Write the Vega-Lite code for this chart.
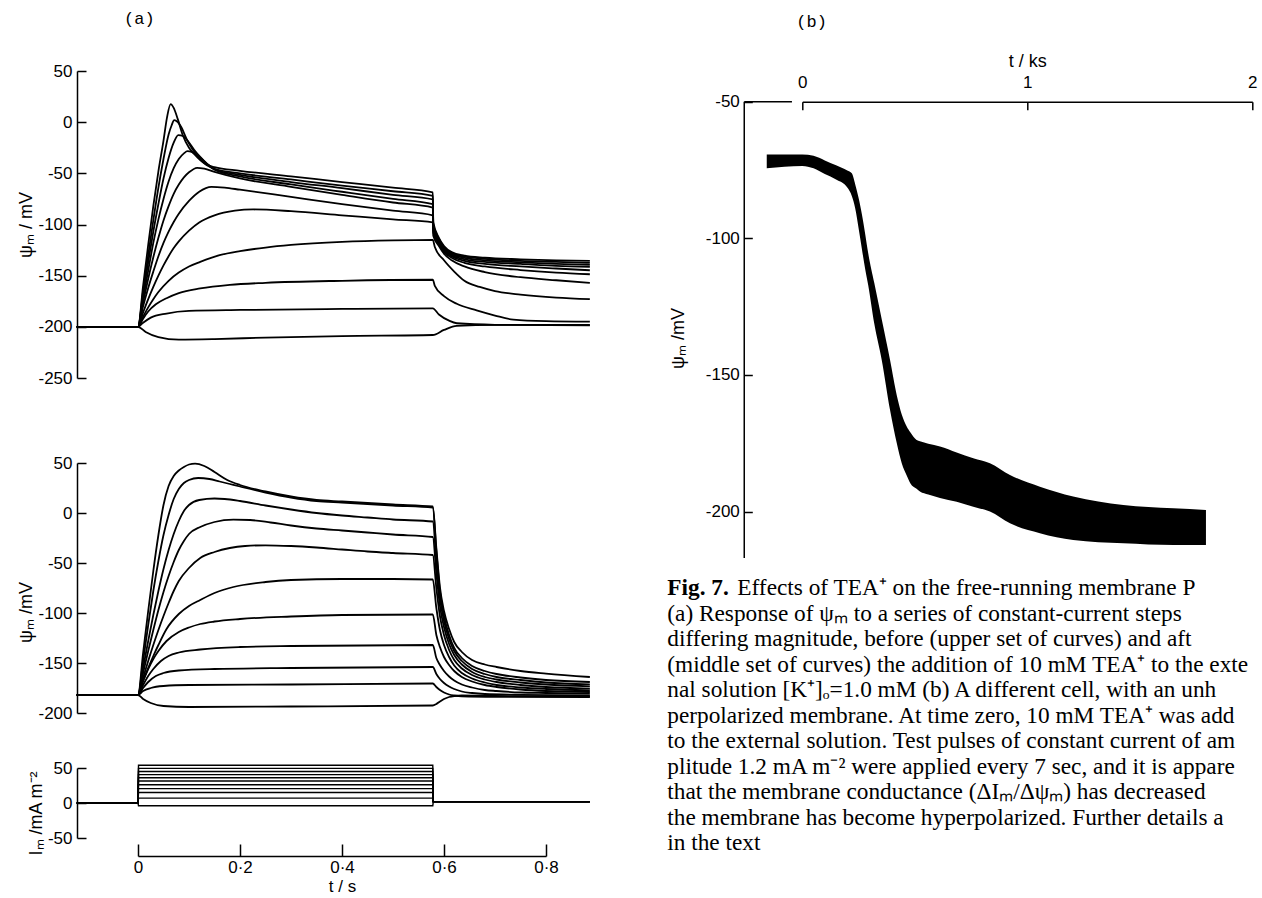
{
"$schema": "https://vega.github.io/schema/vega-lite/v6.json",
"background": "white",
"padding": {"left": 17, "top": 10, "right": 0, "bottom": 0},
"config": {
 "view": {"stroke": null},
 "font": "Liberation Sans",
 "axis": {"grid": false, "domainColor": "black", "tickColor": "black", "labelColor": "black", "titleColor": "black", "domainWidth": 1.5, "tickWidth": 1.5, "labelFont": "Liberation Sans", "labelFontSize": 17, "titleFont": "Liberation Sans", "titleFontSize": 18, "titleFontWeight": "normal", "labelFlush": false},
 "title": {"fontWeight": "normal", "color": "black"}
},
"datasets": {
"up": [
{"s":"A","t":-0.12,"v":-200},{"s":"A","t":0,"v":-200},{"s":"A","t":0.01,"v":-160},{"s":"A","t":0.02,"v":-120},{"s":"A","t":0.03,"v":-82},{"s":"A","t":0.04,"v":-48},{"s":"A","t":0.05,"v":-18},{"s":"A","t":0.057,"v":5},{"s":"A","t":0.064,"v":17.7},{"s":"A","t":0.07,"v":14},{"s":"A","t":0.078,"v":3},{"s":"A","t":0.088,"v":-13},{"s":"A","t":0.1,"v":-25},{"s":"A","t":0.11,"v":-31},{"s":"A","t":0.122,"v":-37},{"s":"A","t":0.135,"v":-41.5},{"s":"A","t":0.15,"v":-44},{"s":"A","t":0.2,"v":-47.5},{"s":"A","t":0.3,"v":-53},{"s":"A","t":0.4,"v":-58.5},{"s":"A","t":0.5,"v":-64},{"s":"A","t":0.578,"v":-68.5},{"s":"A","t":0.579,"v":-98},{"s":"A","t":0.59,"v":-113},{"s":"A","t":0.6,"v":-121},{"s":"A","t":0.615,"v":-127},{"s":"A","t":0.64,"v":-130.5},{"s":"A","t":0.68,"v":-132.5},{"s":"A","t":0.75,"v":-134},{"s":"A","t":0.82,"v":-135},{"s":"A","t":0.886,"v":-135.6},
{"s":"B","t":-0.12,"v":-200},{"s":"B","t":0,"v":-200},{"s":"B","t":0.01,"v":-165},{"s":"B","t":0.02,"v":-130},{"s":"B","t":0.03,"v":-96},{"s":"B","t":0.04,"v":-64},{"s":"B","t":0.05,"v":-36},{"s":"B","t":0.06,"v":-12},{"s":"B","t":0.066,"v":-3},{"s":"B","t":0.071,"v":2},{"s":"B","t":0.078,"v":0},{"s":"B","t":0.085,"v":-5},{"s":"B","t":0.095,"v":-16},{"s":"B","t":0.105,"v":-25},{"s":"B","t":0.115,"v":-32},{"s":"B","t":0.125,"v":-38},{"s":"B","t":0.135,"v":-42},{"s":"B","t":0.15,"v":-45.5},{"s":"B","t":0.2,"v":-50},{"s":"B","t":0.3,"v":-56},{"s":"B","t":0.4,"v":-62},{"s":"B","t":0.5,"v":-67.5},{"s":"B","t":0.578,"v":-72},{"s":"B","t":0.579,"v":-100},{"s":"B","t":0.59,"v":-114},{"s":"B","t":0.6,"v":-122},{"s":"B","t":0.615,"v":-128},{"s":"B","t":0.64,"v":-131.5},{"s":"B","t":0.68,"v":-133.5},{"s":"B","t":0.75,"v":-135.5},{"s":"B","t":0.82,"v":-136.5},{"s":"B","t":0.886,"v":-137.5},
{"s":"C","t":-0.12,"v":-200},{"s":"C","t":0,"v":-200},{"s":"C","t":0.01,"v":-168},{"s":"C","t":0.02,"v":-137},{"s":"C","t":0.03,"v":-107},{"s":"C","t":0.04,"v":-80},{"s":"C","t":0.05,"v":-55},{"s":"C","t":0.06,"v":-35},{"s":"C","t":0.07,"v":-20},{"s":"C","t":0.079,"v":-12.6},{"s":"C","t":0.088,"v":-13.5},{"s":"C","t":0.1,"v":-20},{"s":"C","t":0.11,"v":-27},{"s":"C","t":0.122,"v":-34},{"s":"C","t":0.135,"v":-40.5},{"s":"C","t":0.15,"v":-46},{"s":"C","t":0.2,"v":-51.5},{"s":"C","t":0.3,"v":-58.5},{"s":"C","t":0.4,"v":-64.5},{"s":"C","t":0.5,"v":-71},{"s":"C","t":0.578,"v":-75.5},{"s":"C","t":0.579,"v":-102},{"s":"C","t":0.59,"v":-115},{"s":"C","t":0.6,"v":-123},{"s":"C","t":0.615,"v":-129},{"s":"C","t":0.64,"v":-132.5},{"s":"C","t":0.68,"v":-135},{"s":"C","t":0.75,"v":-137},{"s":"C","t":0.82,"v":-138.5},{"s":"C","t":0.886,"v":-139.5},
{"s":"D","t":-0.12,"v":-200},{"s":"D","t":0,"v":-200},{"s":"D","t":0.01,"v":-172},{"s":"D","t":0.02,"v":-145},{"s":"D","t":0.03,"v":-118},{"s":"D","t":0.04,"v":-95},{"s":"D","t":0.05,"v":-75},{"s":"D","t":0.06,"v":-58},{"s":"D","t":0.07,"v":-45},{"s":"D","t":0.08,"v":-36},{"s":"D","t":0.09,"v":-30.5},{"s":"D","t":0.097,"v":-28.3},{"s":"D","t":0.105,"v":-29},{"s":"D","t":0.115,"v":-32},{"s":"D","t":0.125,"v":-36},{"s":"D","t":0.135,"v":-40.5},{"s":"D","t":0.15,"v":-46.5},{"s":"D","t":0.2,"v":-53},{"s":"D","t":0.3,"v":-60.8},{"s":"D","t":0.4,"v":-68},{"s":"D","t":0.5,"v":-75},{"s":"D","t":0.578,"v":-80},{"s":"D","t":0.579,"v":-104},{"s":"D","t":0.59,"v":-116},{"s":"D","t":0.6,"v":-124},{"s":"D","t":0.615,"v":-130},{"s":"D","t":0.64,"v":-134},{"s":"D","t":0.68,"v":-136.5},{"s":"D","t":0.75,"v":-138.5},{"s":"D","t":0.82,"v":-140.5},{"s":"D","t":0.886,"v":-141.5},
{"s":"E","t":-0.12,"v":-200},{"s":"E","t":0,"v":-200},{"s":"E","t":0.01,"v":-176},{"s":"E","t":0.02,"v":-153},{"s":"E","t":0.03,"v":-132},{"s":"E","t":0.04,"v":-113},{"s":"E","t":0.05,"v":-96},{"s":"E","t":0.06,"v":-82},{"s":"E","t":0.07,"v":-70},{"s":"E","t":0.08,"v":-61},{"s":"E","t":0.09,"v":-54},{"s":"E","t":0.1,"v":-49},{"s":"E","t":0.116,"v":-44.6},{"s":"E","t":0.13,"v":-45.5},{"s":"E","t":0.15,"v":-48.5},{"s":"E","t":0.2,"v":-55},{"s":"E","t":0.3,"v":-63.2},{"s":"E","t":0.4,"v":-71},{"s":"E","t":0.5,"v":-78.5},{"s":"E","t":0.578,"v":-83.5},{"s":"E","t":0.579,"v":-106},{"s":"E","t":0.59,"v":-117.5},{"s":"E","t":0.6,"v":-125},{"s":"E","t":0.615,"v":-131},{"s":"E","t":0.64,"v":-135.5},{"s":"E","t":0.68,"v":-138.5},{"s":"E","t":0.75,"v":-141},{"s":"E","t":0.82,"v":-143},{"s":"E","t":0.886,"v":-144.7},
{"s":"F","t":-0.12,"v":-200},{"s":"F","t":0,"v":-200},{"s":"F","t":0.01,"v":-180},{"s":"F","t":0.02,"v":-162},{"s":"F","t":0.03,"v":-146},{"s":"F","t":0.04,"v":-131},{"s":"F","t":0.05,"v":-118},{"s":"F","t":0.06,"v":-107},{"s":"F","t":0.07,"v":-97.5},{"s":"F","t":0.08,"v":-89.5},{"s":"F","t":0.1,"v":-77},{"s":"F","t":0.12,"v":-68},{"s":"F","t":0.144,"v":-63.2},{"s":"F","t":0.17,"v":-64},{"s":"F","t":0.2,"v":-66},{"s":"F","t":0.3,"v":-73},{"s":"F","t":0.4,"v":-80},{"s":"F","t":0.5,"v":-86.5},{"s":"F","t":0.578,"v":-91},{"s":"F","t":0.579,"v":-108},{"s":"F","t":0.59,"v":-119},{"s":"F","t":0.6,"v":-126.5},{"s":"F","t":0.615,"v":-132.5},{"s":"F","t":0.64,"v":-137.5},{"s":"F","t":0.68,"v":-141},{"s":"F","t":0.75,"v":-144.5},{"s":"F","t":0.82,"v":-147},{"s":"F","t":0.886,"v":-148.6},
{"s":"G","t":-0.12,"v":-200},{"s":"G","t":0,"v":-200},{"s":"G","t":0.01,"v":-186},{"s":"G","t":0.02,"v":-173},{"s":"G","t":0.03,"v":-161},{"s":"G","t":0.04,"v":-150},{"s":"G","t":0.05,"v":-140},{"s":"G","t":0.06,"v":-131},{"s":"G","t":0.07,"v":-123},{"s":"G","t":0.08,"v":-116.5},{"s":"G","t":0.1,"v":-106},{"s":"G","t":0.12,"v":-98},{"s":"G","t":0.15,"v":-91},{"s":"G","t":0.19,"v":-86.5},{"s":"G","t":0.226,"v":-85.3},{"s":"G","t":0.3,"v":-87},{"s":"G","t":0.4,"v":-91},{"s":"G","t":0.5,"v":-95},{"s":"G","t":0.578,"v":-98},{"s":"G","t":0.579,"v":-111},{"s":"G","t":0.59,"v":-121},{"s":"G","t":0.6,"v":-128.5},{"s":"G","t":0.615,"v":-135},{"s":"G","t":0.64,"v":-141},{"s":"G","t":0.68,"v":-146.5},{"s":"G","t":0.75,"v":-151.5},{"s":"G","t":0.82,"v":-154.5},{"s":"G","t":0.886,"v":-157},
{"s":"H","t":-0.12,"v":-200},{"s":"H","t":0,"v":-200},{"s":"H","t":0.01,"v":-190},{"s":"H","t":0.02,"v":-181},{"s":"H","t":0.03,"v":-173},{"s":"H","t":0.04,"v":-166},{"s":"H","t":0.06,"v":-155},{"s":"H","t":0.08,"v":-147},{"s":"H","t":0.1,"v":-141},{"s":"H","t":0.122,"v":-136.5},{"s":"H","t":0.16,"v":-130},{"s":"H","t":0.2,"v":-126},{"s":"H","t":0.25,"v":-122.5},{"s":"H","t":0.3,"v":-120},{"s":"H","t":0.4,"v":-117},{"s":"H","t":0.5,"v":-115.5},{"s":"H","t":0.578,"v":-115},{"s":"H","t":0.582,"v":-122},{"s":"H","t":0.6,"v":-135},{"s":"H","t":0.62,"v":-146},{"s":"H","t":0.64,"v":-155},{"s":"H","t":0.67,"v":-161},{"s":"H","t":0.7,"v":-165},{"s":"H","t":0.75,"v":-168.5},{"s":"H","t":0.82,"v":-171.5},{"s":"H","t":0.886,"v":-173},
{"s":"I","t":-0.12,"v":-200},{"s":"I","t":0,"v":-200},{"s":"I","t":0.01,"v":-192},{"s":"I","t":0.02,"v":-185},{"s":"I","t":0.035,"v":-178},{"s":"I","t":0.056,"v":-172},{"s":"I","t":0.08,"v":-167},{"s":"I","t":0.122,"v":-162.5},{"s":"I","t":0.18,"v":-159},{"s":"I","t":0.25,"v":-157},{"s":"I","t":0.4,"v":-155},{"s":"I","t":0.578,"v":-154},{"s":"I","t":0.582,"v":-160},{"s":"I","t":0.6,"v":-170},{"s":"I","t":0.625,"v":-177.5},{"s":"I","t":0.664,"v":-184},{"s":"I","t":0.7,"v":-189},{"s":"I","t":0.736,"v":-193},{"s":"I","t":0.8,"v":-194.5},{"s":"I","t":0.886,"v":-195},
{"s":"J","t":-0.12,"v":-200},{"s":"J","t":0,"v":-200},{"s":"J","t":0.01,"v":-196},{"s":"J","t":0.025,"v":-191},{"s":"J","t":0.056,"v":-187},{"s":"J","t":0.1,"v":-184.5},{"s":"J","t":0.2,"v":-183.5},{"s":"J","t":0.4,"v":-182.5},{"s":"J","t":0.578,"v":-182},{"s":"J","t":0.59,"v":-188},{"s":"J","t":0.61,"v":-194},{"s":"J","t":0.625,"v":-196.5},{"s":"J","t":0.7,"v":-198},{"s":"J","t":0.886,"v":-198.5},
{"s":"K","t":-0.12,"v":-200},{"s":"K","t":0,"v":-200},{"s":"K","t":0.015,"v":-205},{"s":"K","t":0.04,"v":-210},{"s":"K","t":0.08,"v":-212.5},{"s":"K","t":0.15,"v":-212},{"s":"K","t":0.25,"v":-210.5},{"s":"K","t":0.4,"v":-209},{"s":"K","t":0.578,"v":-208},{"s":"K","t":0.6,"v":-203},{"s":"K","t":0.625,"v":-199},{"s":"K","t":0.7,"v":-198},{"s":"K","t":0.886,"v":-198}
],
"mid": [
{"s":"A","t":-0.12,"v":-182},{"s":"A","t":0,"v":-182},{"s":"A","t":0.01,"v":-140},{"s":"A","t":0.02,"v":-98},{"s":"A","t":0.03,"v":-58},{"s":"A","t":0.04,"v":-22},{"s":"A","t":0.05,"v":8},{"s":"A","t":0.06,"v":27},{"s":"A","t":0.07,"v":37},{"s":"A","t":0.08,"v":42.5},{"s":"A","t":0.09,"v":46},{"s":"A","t":0.1,"v":48.5},{"s":"A","t":0.112,"v":49.4},{"s":"A","t":0.13,"v":47},{"s":"A","t":0.15,"v":41},{"s":"A","t":0.175,"v":33},{"s":"A","t":0.2,"v":28},{"s":"A","t":0.25,"v":21.5},{"s":"A","t":0.3,"v":16.5},{"s":"A","t":0.35,"v":13},{"s":"A","t":0.4,"v":11.5},{"s":"A","t":0.45,"v":10},{"s":"A","t":0.5,"v":8.5},{"s":"A","t":0.578,"v":6.5},{"s":"A","t":0.585,"v":-35},{"s":"A","t":0.592,"v":-74},{"s":"A","t":0.6,"v":-98},{"s":"A","t":0.61,"v":-116},{"s":"A","t":0.62,"v":-129},{"s":"A","t":0.635,"v":-139},{"s":"A","t":0.655,"v":-147},{"s":"A","t":0.68,"v":-151.5},{"s":"A","t":0.703,"v":-154},{"s":"A","t":0.75,"v":-158},{"s":"A","t":0.8,"v":-160.6},{"s":"A","t":0.886,"v":-164},
{"s":"B","t":-0.12,"v":-182},{"s":"B","t":0,"v":-182},{"s":"B","t":0.01,"v":-148},{"s":"B","t":0.02,"v":-112},{"s":"B","t":0.03,"v":-78},{"s":"B","t":0.04,"v":-48},{"s":"B","t":0.05,"v":-22},{"s":"B","t":0.06,"v":-2},{"s":"B","t":0.07,"v":14},{"s":"B","t":0.08,"v":24},{"s":"B","t":0.09,"v":30},{"s":"B","t":0.1,"v":33},{"s":"B","t":0.118,"v":35},{"s":"B","t":0.14,"v":34},{"s":"B","t":0.16,"v":31.5},{"s":"B","t":0.18,"v":29},{"s":"B","t":0.2,"v":26.5},{"s":"B","t":0.25,"v":20.5},{"s":"B","t":0.3,"v":15.5},{"s":"B","t":0.35,"v":12},{"s":"B","t":0.4,"v":10.5},{"s":"B","t":0.45,"v":9},{"s":"B","t":0.5,"v":7.5},{"s":"B","t":0.578,"v":5.5},{"s":"B","t":0.585,"v":-38},{"s":"B","t":0.592,"v":-78},{"s":"B","t":0.6,"v":-103},{"s":"B","t":0.61,"v":-122},{"s":"B","t":0.62,"v":-135},{"s":"B","t":0.635,"v":-145},{"s":"B","t":0.655,"v":-153},{"s":"B","t":0.68,"v":-158},{"s":"B","t":0.703,"v":-161},{"s":"B","t":0.75,"v":-164.5},{"s":"B","t":0.8,"v":-167},{"s":"B","t":0.886,"v":-169},
{"s":"C","t":-0.12,"v":-182},{"s":"C","t":0,"v":-182},{"s":"C","t":0.01,"v":-155},{"s":"C","t":0.02,"v":-128},{"s":"C","t":0.03,"v":-102},{"s":"C","t":0.04,"v":-78},{"s":"C","t":0.05,"v":-56},{"s":"C","t":0.06,"v":-37},{"s":"C","t":0.07,"v":-21},{"s":"C","t":0.08,"v":-8},{"s":"C","t":0.09,"v":2},{"s":"C","t":0.1,"v":8},{"s":"C","t":0.12,"v":13},{"s":"C","t":0.15,"v":14.5},{"s":"C","t":0.17,"v":14},{"s":"C","t":0.2,"v":12},{"s":"C","t":0.25,"v":7.5},{"s":"C","t":0.3,"v":3.5},{"s":"C","t":0.35,"v":0},{"s":"C","t":0.4,"v":-2.5},{"s":"C","t":0.45,"v":-4.5},{"s":"C","t":0.5,"v":-6.5},{"s":"C","t":0.578,"v":-8.5},{"s":"C","t":0.585,"v":-48},{"s":"C","t":0.592,"v":-85},{"s":"C","t":0.6,"v":-108},{"s":"C","t":0.61,"v":-126},{"s":"C","t":0.62,"v":-138},{"s":"C","t":0.635,"v":-148},{"s":"C","t":0.655,"v":-156},{"s":"C","t":0.68,"v":-161},{"s":"C","t":0.703,"v":-164},{"s":"C","t":0.75,"v":-167},{"s":"C","t":0.8,"v":-169.5},{"s":"C","t":0.886,"v":-171.3},
{"s":"D","t":-0.12,"v":-182},{"s":"D","t":0,"v":-182},{"s":"D","t":0.01,"v":-160},{"s":"D","t":0.02,"v":-138},{"s":"D","t":0.03,"v":-117},{"s":"D","t":0.04,"v":-97},{"s":"D","t":0.05,"v":-79},{"s":"D","t":0.06,"v":-63},{"s":"D","t":0.07,"v":-49},{"s":"D","t":0.08,"v":-37},{"s":"D","t":0.09,"v":-28},{"s":"D","t":0.1,"v":-21},{"s":"D","t":0.122,"v":-14},{"s":"D","t":0.15,"v":-9},{"s":"D","t":0.187,"v":-6.6},{"s":"D","t":0.22,"v":-7},{"s":"D","t":0.26,"v":-9.5},{"s":"D","t":0.3,"v":-12.5},{"s":"D","t":0.35,"v":-15.5},{"s":"D","t":0.4,"v":-17.5},{"s":"D","t":0.45,"v":-19.5},{"s":"D","t":0.5,"v":-21.5},{"s":"D","t":0.578,"v":-24},{"s":"D","t":0.585,"v":-60},{"s":"D","t":0.592,"v":-93},{"s":"D","t":0.6,"v":-114},{"s":"D","t":0.61,"v":-131},{"s":"D","t":0.62,"v":-142},{"s":"D","t":0.635,"v":-151.5},{"s":"D","t":0.655,"v":-159},{"s":"D","t":0.68,"v":-164},{"s":"D","t":0.703,"v":-166.5},{"s":"D","t":0.75,"v":-169.5},{"s":"D","t":0.8,"v":-171.5},{"s":"D","t":0.886,"v":-173.3},
{"s":"E","t":-0.12,"v":-182},{"s":"E","t":0,"v":-182},{"s":"E","t":0.01,"v":-165},{"s":"E","t":0.02,"v":-148},{"s":"E","t":0.03,"v":-132},{"s":"E","t":0.04,"v":-117},{"s":"E","t":0.05,"v":-103},{"s":"E","t":0.06,"v":-90},{"s":"E","t":0.07,"v":-78},{"s":"E","t":0.08,"v":-68},{"s":"E","t":0.1,"v":-55},{"s":"E","t":0.122,"v":-45},{"s":"E","t":0.15,"v":-39},{"s":"E","t":0.18,"v":-35},{"s":"E","t":0.21,"v":-33},{"s":"E","t":0.25,"v":-32.3},{"s":"E","t":0.3,"v":-33},{"s":"E","t":0.35,"v":-34.5},{"s":"E","t":0.4,"v":-36.5},{"s":"E","t":0.45,"v":-38.5},{"s":"E","t":0.5,"v":-40},{"s":"E","t":0.578,"v":-42},{"s":"E","t":0.585,"v":-75},{"s":"E","t":0.592,"v":-103},{"s":"E","t":0.6,"v":-122},{"s":"E","t":0.61,"v":-137},{"s":"E","t":0.62,"v":-147},{"s":"E","t":0.635,"v":-155.5},{"s":"E","t":0.655,"v":-162},{"s":"E","t":0.68,"v":-166.5},{"s":"E","t":0.703,"v":-169},{"s":"E","t":0.75,"v":-172},{"s":"E","t":0.8,"v":-174},{"s":"E","t":0.886,"v":-175.6},
{"s":"F","t":-0.12,"v":-182},{"s":"F","t":0,"v":-182},{"s":"F","t":0.01,"v":-168},{"s":"F","t":0.02,"v":-155},{"s":"F","t":0.03,"v":-143},{"s":"F","t":0.04,"v":-132},{"s":"F","t":0.056,"v":-116},{"s":"F","t":0.08,"v":-101},{"s":"F","t":0.1,"v":-93},{"s":"F","t":0.122,"v":-87},{"s":"F","t":0.15,"v":-80},{"s":"F","t":0.187,"v":-74},{"s":"F","t":0.25,"v":-69},{"s":"F","t":0.3,"v":-67},{"s":"F","t":0.4,"v":-66},{"s":"F","t":0.5,"v":-66},{"s":"F","t":0.578,"v":-66.5},{"s":"F","t":0.585,"v":-95},{"s":"F","t":0.592,"v":-117},{"s":"F","t":0.6,"v":-132},{"s":"F","t":0.61,"v":-144},{"s":"F","t":0.62,"v":-152.5},{"s":"F","t":0.635,"v":-160},{"s":"F","t":0.655,"v":-165.5},{"s":"F","t":0.68,"v":-169.5},{"s":"F","t":0.703,"v":-172},{"s":"F","t":0.75,"v":-174.5},{"s":"F","t":0.8,"v":-176},{"s":"F","t":0.886,"v":-177.3},
{"s":"G","t":-0.12,"v":-182},{"s":"G","t":0,"v":-182},{"s":"G","t":0.01,"v":-168},{"s":"G","t":0.02,"v":-156},{"s":"G","t":0.03,"v":-146},{"s":"G","t":0.04,"v":-138},{"s":"G","t":0.056,"v":-128},{"s":"G","t":0.08,"v":-119},{"s":"G","t":0.1,"v":-114.5},{"s":"G","t":0.122,"v":-111},{"s":"G","t":0.15,"v":-108.5},{"s":"G","t":0.2,"v":-106},{"s":"G","t":0.3,"v":-103.5},{"s":"G","t":0.4,"v":-102},{"s":"G","t":0.578,"v":-101.5},{"s":"G","t":0.585,"v":-122},{"s":"G","t":0.592,"v":-134},{"s":"G","t":0.6,"v":-144},{"s":"G","t":0.61,"v":-152},{"s":"G","t":0.62,"v":-158},{"s":"G","t":0.635,"v":-164},{"s":"G","t":0.655,"v":-168.5},{"s":"G","t":0.68,"v":-172},{"s":"G","t":0.703,"v":-174},{"s":"G","t":0.75,"v":-176.5},{"s":"G","t":0.8,"v":-178},{"s":"G","t":0.886,"v":-179},
{"s":"H","t":-0.12,"v":-182},{"s":"H","t":0,"v":-182},{"s":"H","t":0.01,"v":-172},{"s":"H","t":0.02,"v":-163},{"s":"H","t":0.03,"v":-156},{"s":"H","t":0.045,"v":-148},{"s":"H","t":0.06,"v":-143},{"s":"H","t":0.08,"v":-139.5},{"s":"H","t":0.122,"v":-136.5},{"s":"H","t":0.2,"v":-134},{"s":"H","t":0.3,"v":-133},{"s":"H","t":0.578,"v":-132},{"s":"H","t":0.585,"v":-145},{"s":"H","t":0.592,"v":-152},{"s":"H","t":0.6,"v":-158},{"s":"H","t":0.61,"v":-163.5},{"s":"H","t":0.62,"v":-167.5},{"s":"H","t":0.635,"v":-171.5},{"s":"H","t":0.655,"v":-174.5},{"s":"H","t":0.68,"v":-177},{"s":"H","t":0.703,"v":-178},{"s":"H","t":0.75,"v":-179.5},{"s":"H","t":0.8,"v":-180},{"s":"H","t":0.886,"v":-180.6},
{"s":"I","t":-0.12,"v":-182},{"s":"I","t":0,"v":-182},{"s":"I","t":0.01,"v":-175},{"s":"I","t":0.02,"v":-169},{"s":"I","t":0.035,"v":-163},{"s":"I","t":0.05,"v":-160},{"s":"I","t":0.08,"v":-157.5},{"s":"I","t":0.15,"v":-156},{"s":"I","t":0.3,"v":-155},{"s":"I","t":0.578,"v":-154},{"s":"I","t":0.585,"v":-161},{"s":"I","t":0.592,"v":-166},{"s":"I","t":0.6,"v":-170},{"s":"I","t":0.61,"v":-173.5},{"s":"I","t":0.62,"v":-176},{"s":"I","t":0.635,"v":-178.5},{"s":"I","t":0.655,"v":-180},{"s":"I","t":0.68,"v":-181},{"s":"I","t":0.75,"v":-181.8},{"s":"I","t":0.886,"v":-182.3},
{"s":"J","t":-0.12,"v":-182},{"s":"J","t":0,"v":-182},{"s":"J","t":0.01,"v":-178},{"s":"J","t":0.025,"v":-175},{"s":"J","t":0.05,"v":-173},{"s":"J","t":0.1,"v":-172},{"s":"J","t":0.3,"v":-171.5},{"s":"J","t":0.578,"v":-170.5},{"s":"J","t":0.585,"v":-174},{"s":"J","t":0.592,"v":-177},{"s":"J","t":0.6,"v":-179.5},{"s":"J","t":0.61,"v":-181.5},{"s":"J","t":0.62,"v":-182.5},{"s":"J","t":0.635,"v":-183.3},{"s":"J","t":0.7,"v":-183.8},{"s":"J","t":0.886,"v":-184},
{"s":"K","t":-0.12,"v":-182},{"s":"K","t":0,"v":-182},{"s":"K","t":0.01,"v":-186},{"s":"K","t":0.025,"v":-190},{"s":"K","t":0.05,"v":-193},{"s":"K","t":0.1,"v":-194},{"s":"K","t":0.3,"v":-193.5},{"s":"K","t":0.578,"v":-192.5},{"s":"K","t":0.585,"v":-191},{"s":"K","t":0.592,"v":-188.5},{"s":"K","t":0.6,"v":-186},{"s":"K","t":0.61,"v":-184},{"s":"K","t":0.62,"v":-183},{"s":"K","t":0.635,"v":-182.5},{"s":"K","t":0.7,"v":-183},{"s":"K","t":0.886,"v":-183.5}
],
"im": [
{"s":"A","t":-0.12,"v":0},{"s":"A","t":0,"v":0},{"s":"A","t":0.001,"v":54},{"s":"A","t":0.578,"v":54},{"s":"A","t":0.579,"v":2},{"s":"A","t":0.886,"v":2},
{"s":"B","t":-0.12,"v":0},{"s":"B","t":0,"v":0},{"s":"B","t":0.001,"v":49.5},{"s":"B","t":0.578,"v":49.5},{"s":"B","t":0.579,"v":2},{"s":"B","t":0.886,"v":2},
{"s":"C","t":-0.12,"v":0},{"s":"C","t":0,"v":0},{"s":"C","t":0.001,"v":45},{"s":"C","t":0.578,"v":45},{"s":"C","t":0.579,"v":2},{"s":"C","t":0.886,"v":2},
{"s":"D","t":-0.12,"v":0},{"s":"D","t":0,"v":0},{"s":"D","t":0.001,"v":40.5},{"s":"D","t":0.578,"v":40.5},{"s":"D","t":0.579,"v":2},{"s":"D","t":0.886,"v":2},
{"s":"E","t":-0.12,"v":0},{"s":"E","t":0,"v":0},{"s":"E","t":0.001,"v":36},{"s":"E","t":0.578,"v":36},{"s":"E","t":0.579,"v":2},{"s":"E","t":0.886,"v":2},
{"s":"F","t":-0.12,"v":0},{"s":"F","t":0,"v":0},{"s":"F","t":0.001,"v":31.5},{"s":"F","t":0.578,"v":31.5},{"s":"F","t":0.579,"v":2},{"s":"F","t":0.886,"v":2},
{"s":"G","t":-0.12,"v":0},{"s":"G","t":0,"v":0},{"s":"G","t":0.001,"v":26},{"s":"G","t":0.578,"v":26},{"s":"G","t":0.579,"v":2},{"s":"G","t":0.886,"v":2},
{"s":"H","t":-0.12,"v":0},{"s":"H","t":0,"v":0},{"s":"H","t":0.001,"v":20.5},{"s":"H","t":0.578,"v":20.5},{"s":"H","t":0.579,"v":2},{"s":"H","t":0.886,"v":2},
{"s":"I","t":-0.12,"v":0},{"s":"I","t":0,"v":0},{"s":"I","t":0.001,"v":15},{"s":"I","t":0.578,"v":15},{"s":"I","t":0.579,"v":2},{"s":"I","t":0.886,"v":2},
{"s":"J","t":-0.12,"v":0},{"s":"J","t":0,"v":0},{"s":"J","t":0.001,"v":7},{"s":"J","t":0.578,"v":7},{"s":"J","t":0.579,"v":2},{"s":"J","t":0.886,"v":2},
{"s":"K","t":-0.12,"v":0},{"s":"K","t":0,"v":0},{"s":"K","t":0.001,"v":-4},{"s":"K","t":0.578,"v":-4},{"s":"K","t":0.579,"v":2},{"s":"K","t":0.886,"v":2}
],
"band": [
{"t":-0.158,"top":-69.3,"bot":-74.4},{"t":0,"top":-69.3,"bot":-73.5},{"t":0.05,"top":-69.8,"bot":-74.4},{"t":0.1,"top":-71.5,"bot":-76.5},{"t":0.15,"top":-73.3,"bot":-78.5},{"t":0.2,"top":-75.2,"bot":-81.4},{"t":0.22,"top":-76.2,"bot":-84.5},{"t":0.235,"top":-80.2,"bot":-89},{"t":0.25,"top":-85.2,"bot":-96.2},{"t":0.265,"top":-91.3,"bot":-104},{"t":0.28,"top":-98.7,"bot":-111.5},{"t":0.293,"top":-105.5,"bot":-117.2},{"t":0.32,"top":-116.4,"bot":-131.3},{"t":0.353,"top":-129.6,"bot":-144.5},{"t":0.39,"top":-144.5,"bot":-162.8},{"t":0.42,"top":-157.5,"bot":-175},{"t":0.442,"top":-164.5,"bot":-182.3},{"t":0.464,"top":-168.9,"bot":-186.8},{"t":0.48,"top":-171,"bot":-189.6},{"t":0.508,"top":-173.8,"bot":-191.7},{"t":0.523,"top":-174.3,"bot":-192.7},{"t":0.56,"top":-175.2,"bot":-193.8},{"t":0.612,"top":-176.2,"bot":-195},{"t":0.686,"top":-178.4,"bot":-196.4},{"t":0.76,"top":-180.5,"bot":-198.2},{"t":0.834,"top":-182.3,"bot":-200},{"t":0.923,"top":-186.6,"bot":-204.3},{"t":1.056,"top":-190.9,"bot":-207.9},{"t":1.204,"top":-194.5,"bot":-210.4},{"t":1.427,"top":-197.6,"bot":-211.6},{"t":1.649,"top":-198.8,"bot":-212.2},{"t":1.794,"top":-199.4,"bot":-212.2}
],
"cap": [
{"line":1,"part":"bold","text":"Fig. 7."},
{"line":1,"part":"rest","text":"Effects of TEA⁺ on the free-running membrane P"},
{"line":2,"part":"body","text":"(a) Response of ψₘ to a series of constant-current steps"},
{"line":3,"part":"body","text":"differing magnitude, before (upper set of curves) and aft"},
{"line":4,"part":"body","text":"(middle set of curves) the addition of 10 mM TEA⁺ to the exte"},
{"line":5,"part":"body","text":"nal solution [K⁺]ₒ=1.0 mM (b) A different cell, with an unh"},
{"line":6,"part":"body","text":"perpolarized membrane. At time zero, 10 mM TEA⁺ was add"},
{"line":7,"part":"body","text":"to the external solution. Test pulses of constant current of am"},
{"line":8,"part":"body","text":"plitude 1.2 mA m⁻² were applied every 7 sec, and it is appare"},
{"line":9,"part":"body","text":"that the membrane conductance (ΔIₘ/Δψₘ) has decreased"},
{"line":10,"part":"body","text":"the membrane has become hyperpolarized. Further details a"},
{"line":11,"part":"body","text":"in the text"}
]
},
"hconcat": [
 {
  "vconcat": [
   {
    "width": 408, "height": 307,
    "title": {"text": "(a)", "anchor": "start", "frame": "group", "font": "Liberation Mono", "fontSize": 17, "dx": -14, "offset": 34},
    "data": {"name": "up"},
    "mark": {"type": "line", "color": "black", "strokeWidth": 1.8, "interpolate": "monotone"},
    "encoding": {
     "x": {"field": "t", "type": "quantitative", "scale": {"domain": [0, 0.8], "nice": false, "zero": false}, "axis": null},
     "y": {"field": "v", "type": "quantitative", "scale": {"domain": [-250, 50], "nice": false, "zero": false},
       "axis": {"values": [50, 0, -50, -100, -150, -200, -250], "offset": 61, "tickSize": -9, "labelPadding": 14, "labelExpr": "'' + datum.value", "title": "ψₘ / mV", "titlePadding": 2}},
     "detail": {"field": "s"}
    }
   },
   {
    "vconcat": [
     {
      "width": 408, "height": 250,
      "data": {"name": "mid"},
      "mark": {"type": "line", "color": "black", "strokeWidth": 1.8, "interpolate": "monotone"},
      "encoding": {
       "x": {"field": "t", "type": "quantitative", "scale": {"domain": [0, 0.8], "nice": false, "zero": false}, "axis": null},
       "y": {"field": "v", "type": "quantitative", "scale": {"domain": [-200, 50], "nice": false, "zero": false},
         "axis": {"values": [50, 0, -50, -100, -150, -200], "offset": 61, "tickSize": -9, "labelPadding": 14, "labelExpr": "'' + datum.value", "title": "ψₘ /mV", "titlePadding": 2, "titleY": 149}},
       "detail": {"field": "s"}
      }
     },
     {
      "width": 408, "height": 70,
      "data": {"name": "im"},
      "mark": {"type": "line", "color": "black", "strokeWidth": 1.4},
      "encoding": {
       "x": {"field": "t", "type": "quantitative", "scale": {"domain": [0, 0.8], "nice": false, "zero": false},
         "axis": {"orient": "bottom", "values": [0, 0.2, 0.4, 0.6, 0.8], "offset": 18, "tickSize": -12, "labelPadding": 15.5, "labelExpr": "datum.value == 0 ? '0' : replace(format(datum.value, '.1f'), '.', '·')", "title": "t / s", "titleFontSize": 17, "titlePadding": 2.5}},
       "y": {"field": "v", "type": "quantitative", "scale": {"domain": [-50, 50], "nice": false, "zero": false},
         "axis": {"values": [50, 0, -50], "offset": 61, "tickSize": -9, "labelPadding": 14, "labelExpr": "'' + datum.value", "title": "Iₘ /mA m⁻²", "titlePadding": 2, "titleY": 45}},
       "detail": {"field": "s"}
      }
     }
    ],
    "spacing": 55, "bounds": "flush"
   }
  ],
  "spacing": 85, "bounds": "flush"
 },
 {
  "vconcat": [
   {
    "width": 450, "height": 487,
    "title": {"text": "(b)", "anchor": "start", "frame": "group", "font": "Liberation Mono", "fontSize": 17, "dx": -6, "offset": 22},
    "layer": [
     {
      "data": {"name": "band"},
      "mark": {"type": "area", "color": "black", "interpolate": "monotone"},
      "encoding": {
       "x": {"field": "t", "type": "quantitative", "scale": {"domain": [0, 2], "nice": false, "zero": false},
         "axis": {"orient": "top", "values": [0, 1, 2], "offset": -30.7, "tickSize": -8, "labelPadding": 18, "labelExpr": "'' + datum.value", "title": "t / ks", "titlePadding": 3}},
       "y": {"field": "top", "type": "quantitative", "scale": {"domain": [-217, -38.77], "nice": false, "zero": false},
         "axis": {"values": [-50, -100, -150, -200], "offset": 58, "domain": false, "tickSize": -8, "labelPadding": 13, "labelExpr": "'' + datum.value", "title": "ψₘ /mV", "titlePadding": 18, "titleY": 267}},
       "y2": {"field": "bot"}
      }
     },
     {
      "data": {"values": [{}]},
      "mark": {"type": "rule", "color": "black", "strokeWidth": 1.5},
      "encoding": {"x": {"datum": -0.258, "type": "quantitative"}, "y": {"datum": -50, "type": "quantitative"}, "y2": {"datum": -217}}
     },
     {
      "data": {"values": [{}]},
      "mark": {"type": "rule", "color": "black", "strokeWidth": 1.5},
      "encoding": {"x": {"datum": -0.258, "type": "quantitative"}, "x2": {"datum": -0.046}, "y": {"datum": -50, "type": "quantitative"}}
     }
    ]
   },
   {
    "width": 436, "height": 280.5,
    "data": {"name": "cap"},
    "encoding": {
     "x": {"datum": 0, "type": "quantitative", "scale": {"domain": [0, 1]}, "axis": null},
     "y": {"field": "line", "type": "ordinal", "axis": null, "scale": {"paddingInner": 0, "paddingOuter": 0}},
     "text": {"field": "text"}
    },
    "layer": [
     {"transform": [{"filter": "datum.part == 'body'"}], "mark": {"type": "text", "align": "left", "baseline": "middle", "font": "Liberation Serif", "fontSize": 23.3, "dx": -135, "color": "black"}},
     {"transform": [{"filter": "datum.part == 'bold'"}], "mark": {"type": "text", "align": "left", "baseline": "middle", "font": "Liberation Serif", "fontSize": 23.3, "fontWeight": "bold", "dx": -135, "color": "black"}},
     {"transform": [{"filter": "datum.part == 'rest'"}], "mark": {"type": "text", "align": "left", "baseline": "middle", "font": "Liberation Serif", "fontSize": 23.3, "dx": -65, "color": "black"}}
    ]
   }
  ],
  "spacing": 17.25, "bounds": "flush"
 }
],
"spacing": 664.3,
"bounds": "flush"
}
